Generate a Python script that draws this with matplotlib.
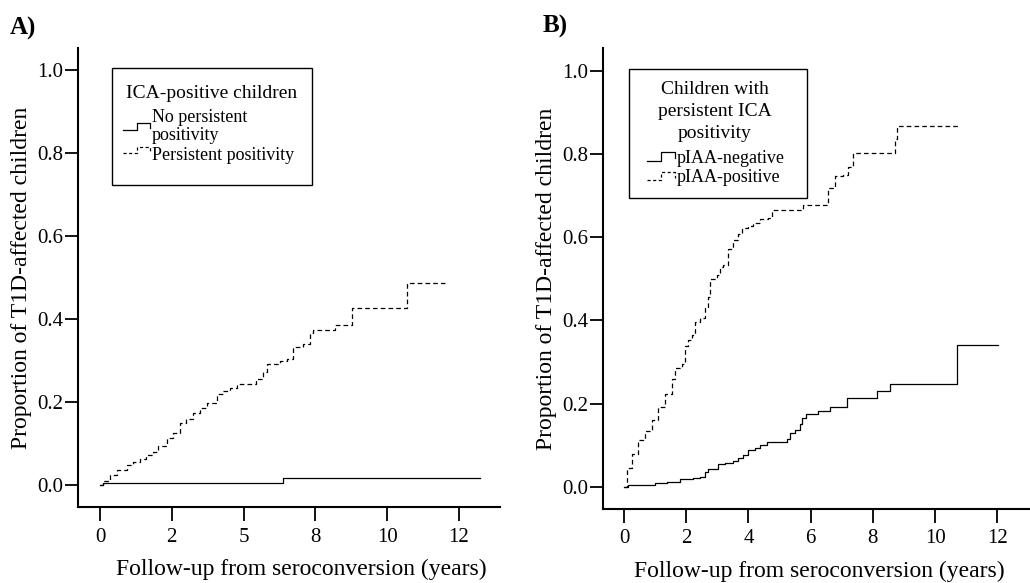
import matplotlib
matplotlib.use('Agg')
import matplotlib.pyplot as plt
from matplotlib.lines import Line2D
from matplotlib.patches import Rectangle

plt.rcParams['font.family'] = ['Liberation Serif', 'DejaVu Serif']

# ---------------- data ----------------
# Panel A: ICA-positive children
a_pers_x = [0, 0.1, 0.35, 0.6, 0.93, 1.15, 1.39, 1.6, 1.86, 2.03, 2.32, 2.55, 2.78, 3.0, 3.25,
            3.5, 3.71, 4.06, 4.3, 4.52, 4.76, 5.45, 5.68, 5.8, 6.26, 6.5, 6.73, 7.08, 7.31, 7.42,
            8.18, 8.76, 10.7, 12.0]
a_pers_y = [0, 0.01, 0.025, 0.037, 0.049, 0.056, 0.063, 0.072, 0.08, 0.094, 0.112, 0.125, 0.148,
            0.16, 0.174, 0.186, 0.197, 0.219, 0.226, 0.233, 0.242, 0.255, 0.273, 0.292, 0.298,
            0.304, 0.331, 0.34, 0.367, 0.374, 0.385, 0.425, 0.487, 0.487]
a_nopers_x = [0, 0.1, 6.39, 13.25]
a_nopers_y = [0, 0.0055, 0.016, 0.016]

# Panel B: children with persistent ICA positivity
b_pos_x = [0, 0.09, 0.25, 0.46, 0.68, 0.89, 1.1, 1.32, 1.53, 1.64, 1.85, 1.96, 2.07, 2.18, 2.28,
           2.44, 2.6, 2.71, 2.76, 2.98, 3.08, 3.19, 3.35, 3.51, 3.67, 3.78, 4.0, 4.16, 4.37, 4.64,
           4.75, 5.76, 6.55, 6.78, 7.05, 7.21, 7.37, 8.71, 8.76, 10.75]
b_pos_y = [0, 0.045, 0.08, 0.112, 0.134, 0.161, 0.192, 0.223, 0.259, 0.286, 0.295, 0.339, 0.353,
           0.366, 0.397, 0.406, 0.429, 0.455, 0.5, 0.509, 0.527, 0.534, 0.571, 0.594, 0.607, 0.623,
           0.627, 0.634, 0.643, 0.647, 0.665, 0.676, 0.719, 0.746, 0.75, 0.768, 0.802, 0.835,
           0.866, 0.866]
b_neg_x = [0, 0.14, 1.0, 1.37, 1.8, 2.23, 2.44, 2.6, 2.71, 3.03, 3.25, 3.51, 3.67, 3.84, 4.0,
           4.21, 4.37, 4.59, 5.23, 5.33, 5.5, 5.66, 5.73, 5.84, 6.25, 6.62, 7.16, 8.13, 8.55,
           10.69, 12.01]
b_neg_y = [0, 0.0045, 0.009, 0.012, 0.018, 0.022, 0.024, 0.036, 0.043, 0.054, 0.058, 0.063,
           0.069, 0.076, 0.089, 0.094, 0.101, 0.107, 0.116, 0.129, 0.138, 0.152, 0.165, 0.176,
           0.183, 0.192, 0.214, 0.230, 0.247, 0.341, 0.341]

a_xticks = [0, 2.5, 5, 7.5, 10, 12.5]
a_xticklabels = ['0', '2', '5', '8', '10', '12']
b_xticks = [0, 2, 4, 6, 8, 10, 12]
b_xticklabels = ['0', '2', '4', '6', '8', '10', '12']
yticks = [0.0, 0.2, 0.4, 0.6, 0.8, 1.0]
yticklabels = ['0.0', '0.2', '0.4', '0.6', '0.8', '1.0']

xlabel = 'Follow-up from seroconversion (years)'
ylabel = 'Proportion of T1D-affected children'
a_legend_title = ['ICA-positive children']
a_legend_labels = [['No persistent', 'positivity'], ['Persistent positivity']]
b_legend_title = ['Children with', 'persistent ICA', 'positivity']
b_legend_labels = [['pIAA-negative'], ['pIAA-positive']]

# ---------------- figure ----------------
W, H = 1030, 583
fig = plt.figure(figsize=(W / 100, H / 100), dpi=100)


def fx(x):
    return x / W


def fy(y):
    return 1 - y / H


DASH = (0, (3.7, 2.5))
LW = 0.9

axA = fig.add_axes([fx(78), fy(507.4), fx(500) - fx(78), fy(47.6) - fy(507.4)])
axB = fig.add_axes([fx(602.7), fy(509.3), 1 - fx(602.7), fy(47.6) - fy(509.3)])

axA.step(a_nopers_x, a_nopers_y, where='post', color='black', lw=LW)
axA.step(a_pers_x, a_pers_y, where='post', color='black', lw=LW, linestyle=DASH)
axB.step(b_neg_x, b_neg_y, where='post', color='black', lw=LW)
axB.step(b_pos_x, b_pos_y, where='post', color='black', lw=LW, linestyle=DASH)

axA.set_xlim(-0.766, 13.93)
axA.set_ylim(-0.054, 1.053)
axB.set_xlim(-0.685, 13.05)
axB.set_ylim(-0.0536, 1.055)

axA.set_xticks(a_xticks)
axA.set_xticklabels(a_xticklabels)
axB.set_xticks(b_xticks)
axB.set_xticklabels(b_xticklabels)

for ax, lx in ((axA, 0.53), (axB, 0.506)):
    ax.set_yticks(yticks)
    ax.set_yticklabels(yticklabels)
    for s in ('top', 'right'):
        ax.spines[s].set_visible(False)
    for s in ('left', 'bottom'):
        ax.spines[s].set_linewidth(1.5)
    ax.tick_params(axis='x', length=10, width=1.3, pad=4.5, labelsize=15)
    ax.tick_params(axis='y', length=9.5, width=1.3, pad=1, labelsize=15)
    ax.set_xlabel(xlabel, fontsize=17, labelpad=9, x=lx)
    ax.set_ylabel(ylabel, fontsize=17, labelpad=3.5)
    ax.patch.set_visible(False)

fig.text(fx(10), fy(26), 'A)', fontsize=18, fontweight='bold', ha='left', va='center_baseline')
fig.text(fx(543), fy(24), 'B)', fontsize=18, fontweight='bold', ha='left', va='center_baseline')


def draw_legend(box, title, title_cx, title_ys, labels, text_x, label_ys, handles):
    x0, y0, x1, y1 = box
    fig.add_artist(Rectangle((fx(x0), fy(y1)), fx(x1) - fx(x0), fy(y0) - fy(y1),
                             transform=fig.transFigure, fill=False, edgecolor='black', lw=1.0))
    for t, ty in zip(title, title_ys):
        fig.text(fx(title_cx), fy(ty), t, fontsize=14, ha='center', va='center_baseline')
    for lines, ys in zip(labels, label_ys):
        for t, ty in zip(lines, ys):
            fig.text(fx(text_x), fy(ty), t, fontsize=13, ha='left', va='center_baseline')
    for pts, ls in handles:
        fig.add_artist(Line2D([fx(p[0]) for p in pts], [fy(p[1]) for p in pts],
                              transform=fig.transFigure, color='black', lw=LW, linestyle=ls))


draw_legend((111.7, 68.5, 311.7, 184.5), a_legend_title, 211.5, [91.7],
            a_legend_labels, 152, [[115, 133], [153]],
            [([(123, 130), (137, 130), (137, 123), (150, 123), (150, 128)], '-'),
             ([(123, 153), (137, 153), (137, 147), (150, 147), (150, 152)], (0, (2.5, 2)))])

draw_legend((629.3, 69, 806.7, 198.3), b_legend_title, 715, [88, 110, 131],
            b_legend_labels, 676.7, [[156.7], [175.7]],
            [([(646.7, 161), (660.7, 161), (660.7, 152), (675, 152), (675, 158)], '-'),
             ([(646.7, 180), (660.7, 180), (660.7, 172), (675, 172), (675, 178)], (0, (2.5, 2)))])

fig.savefig('out.png', dpi=100)
